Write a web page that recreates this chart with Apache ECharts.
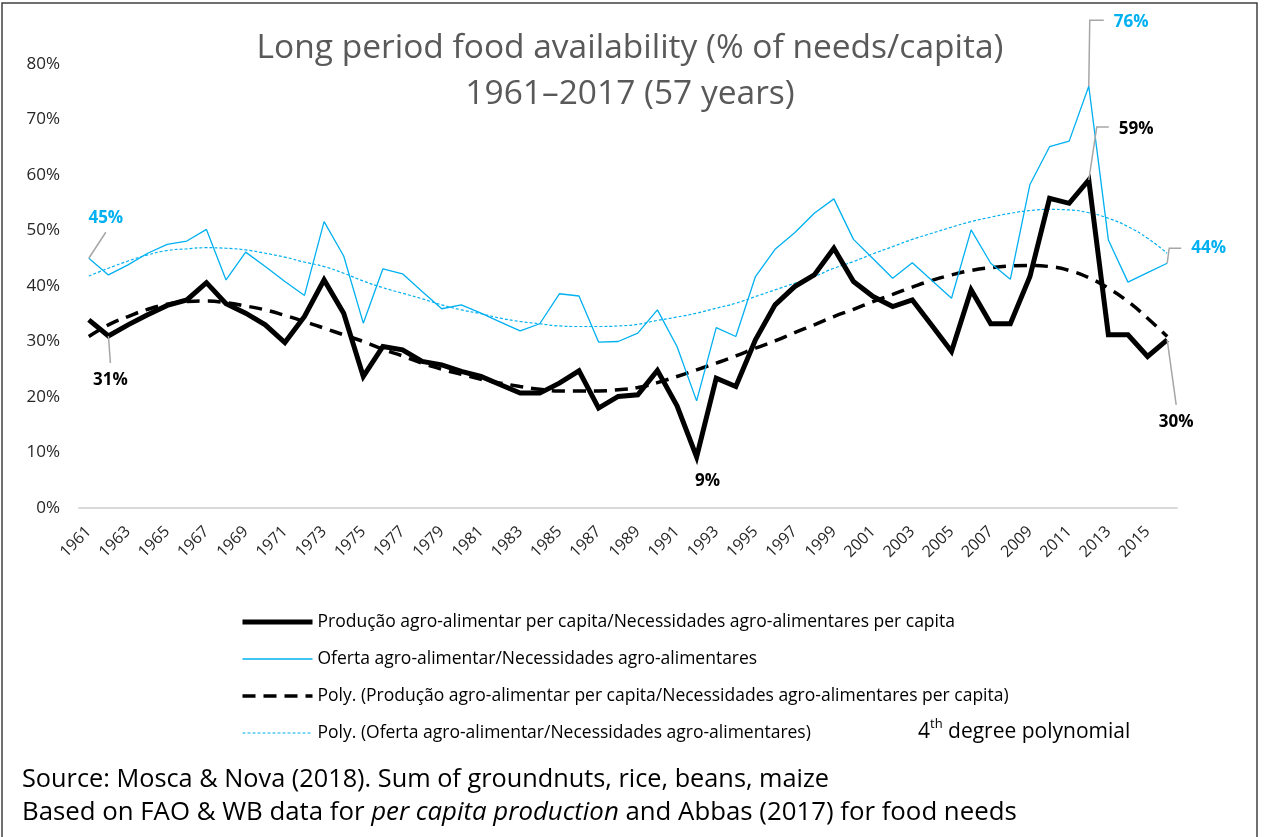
<!DOCTYPE html>
<html>
<head>
<meta charset="utf-8">
<title>Long period food availability</title>
<script src="https://cdn.jsdelivr.net/npm/echarts@6/dist/echarts.min.js"></script>
<style>
  html, body { margin: 0; padding: 0; background: #fff; }
  #chart { width: 1268px; height: 837px; }
</style>
</head>
<body>
<div id="chart"></div>
<script>
  // anos (eixo x)
  const years = [
    '1961', '1962', '1963', '1964', '1965', '1966', '1967', '1968', '1969', '1970',
    '1971', '1972', '1973', '1974', '1975', '1976', '1977', '1978', '1979', '1980',
    '1981', '1982', '1983', '1984', '1985', '1986', '1987', '1988', '1989', '1990',
    '1991', '1992', '1993', '1994', '1995', '1996', '1997', '1998', '1999', '2000',
    '2001', '2002', '2003', '2004', '2005', '2006', '2007', '2008', '2009', '2010',
    '2011', '2012', '2013', '2014', '2015', '2016'
  ]

  // Produção agro-alimentar per capita / necessidades (%)
  const producao = [
    33.9, 31.0, 33.0, 34.8, 36.5, 37.5, 40.6, 36.8, 35.1, 33.0,
    29.8, 34.5, 41.1, 35.1, 23.7, 29.1, 28.5, 26.4, 25.8, 24.6,
    23.7, 22.2, 20.7, 20.7, 22.5, 24.7, 18.0, 20.1, 20.4, 24.8,
    18.4, 9.2, 23.4, 21.9, 30.3, 36.6, 39.9, 42.0, 46.8, 40.8,
    38.1, 36.3, 37.5, 32.9, 28.2, 39.3, 33.2, 33.2, 41.7, 55.8,
    54.9, 59.1, 31.2, 31.2, 27.3, 30.3
  ]

  // Oferta agro-alimentar / necessidades (%)
  const oferta = [
    45.0, 42.0, 43.8, 45.9, 47.5, 48.1, 50.2, 41.1, 46.1, 43.5,
    40.8, 38.3, 51.6, 45.4, 33.3, 43.1, 42.2, 39.0, 35.9, 36.6,
    35.1, 33.5, 31.9, 33.2, 38.6, 38.2, 29.9, 30.0, 31.5, 35.7,
    29.1, 19.3, 32.5, 30.9, 41.7, 46.6, 49.6, 53.1, 55.7, 48.4,
    44.9, 41.4, 44.2, 41.0, 37.8, 50.1, 44.1, 41.2, 58.3, 65.1,
    66.1, 76.0, 48.3, 40.7, 42.4, 44.1
  ]

  // tendências (polinómio 4º grau)
  const producaoTrend = [
    30.9, 33.0, 34.5, 35.8, 36.7, 37.2, 37.3, 37.0, 36.4, 35.7,
    34.7, 33.6, 32.4, 31.2, 30.0, 28.6, 27.4, 26.1, 25.0, 24.1,
    23.2, 22.5, 21.9, 21.4, 21.1, 21.1, 21.1, 21.3, 21.7, 22.6,
    23.7, 24.9, 26.1, 27.4, 28.8, 30.1, 31.6, 33.0, 34.5, 35.8,
    37.2, 38.5, 39.8, 41.0, 42.0, 42.8, 43.3, 43.6, 43.7, 43.5,
    42.8, 41.5, 39.6, 37.2, 34.2, 30.9
  ]
  const ofertaTrend = [
    41.8, 43.2, 44.5, 45.6, 46.4, 46.7, 46.9, 46.8, 46.5, 45.9,
    45.2, 44.3, 43.5, 42.3, 40.9, 39.7, 38.7, 37.7, 36.6, 35.7,
    35.0, 34.2, 33.6, 33.2, 32.8, 32.7, 32.7, 32.8, 33.1, 33.8,
    34.4, 35.1, 36.0, 36.9, 38.1, 39.3, 40.5, 41.7, 43.2, 44.4,
    45.8, 47.1, 48.4, 49.5, 50.6, 51.6, 52.4, 53.1, 53.6, 53.8,
    53.7, 53.2, 52.2, 50.7, 48.6, 45.9
  ]

  const yTicks = [0, 10, 20, 30, 40, 50, 60, 70, 80]

  const names = [
    'Produção agro-alimentar per capita/Necessidades agro-alimentares per capita',
    'Oferta agro-alimentar/Necessidades agro-alimentares',
    'Poly. (Produção agro-alimentar per capita/Necessidades agro-alimentares per capita)',
    'Poly. (Oferta agro-alimentar/Necessidades agro-alimentares)'
  ]

  const BLACK = '#000000'
  const BLUE = '#00b0f0'
  const GUIDE = '#a6a6a6'
  const FONT = '"Open Sans", "Noto Sans", sans-serif'

  // rótulos com linha guia: ponto de referência + desvios em px
  const notes = [
    {values: oferta, index: 0, color: BLUE, path: [[0, 0], [17, -26]], text: [17, -40], align: 'center'},
    {values: producao, index: 1, color: BLACK, path: [[0, 0], [2, 27]], text: [2, 44], align: 'center'},
    {values: producao, index: 31, color: BLACK, path: null, text: [11, 24], align: 'center'},
    {values: oferta, index: 51, color: BLUE, path: [[0, 0], [1, -66], [15, -66]], text: [25, -64], align: 'left'},
    {values: producao, index: 51, color: BLACK, path: [[0, 0], [8, -53], [20, -53]], text: [30, -51], align: 'left'},
    {values: oferta, index: 55, color: BLUE, path: [[0, 0], [2, -15], [14, -15]], text: [24, -15], align: 'left'},
    {values: producao, index: 55, color: BLACK, path: [[0, 0], [9, 65]], text: [9, 82], align: 'center'}
  ]

  const chart = echarts.init(document.getElementById('chart'))

  chart.setOption({
    animation: false,
    textStyle: {fontFamily: FONT},
    title: {
      text: 'Long period food availability (% of needs/capita)\n1961–2017 (57 years)',
      left: 630,
      top: 25,
      padding: 0,
      textAlign: 'center',
      textStyle: {
        fontFamily: FONT,
        fontSize: 33.5,
        fontWeight: 'normal',
        color: '#595959',
        lineHeight: 46
      }
    },
    legend: {
      data: names,
      orient: 'vertical',
      left: 240,
      top: 613,
      itemWidth: 70,
      itemHeight: 14,
      itemGap: 19,
      padding: 0,
      selectedMode: false,
      itemStyle: {opacity: 0},
      lineStyle: {width: 'inherit'},
      textStyle: {fontSize: 17.5, lineHeight: 16, color: '#000', fontFamily: FONT}
    },
    grid: {
      left: 79,
      right: 91,
      top: 64,
      bottom: 329
    },
    xAxis: {
      type: 'category',
      data: years,
      boundaryGap: true,
      axisLine: {lineStyle: {color: '#d9d9d9', width: 2}},
      axisTick: {show: false},
      axisLabel: {
        interval: 1,
        rotate: 45,
        margin: 21,
        fontSize: 16,
        color: '#262626'
      },
      splitLine: {show: false}
    },
    yAxis: {
      type: 'value',
      min: yTicks[0],
      max: yTicks[yTicks.length - 1],
      interval: yTicks[1] - yTicks[0],
      axisLine: {show: false},
      axisTick: {show: false},
      splitLine: {show: false},
      axisLabel: {
        formatter: '{value}%',
        margin: 19,
        fontSize: 17,
        color: '#262626'
      }
    },
    series: [
      {
        name: names[0],
        type: 'line',
        data: producao,
        symbol: 'none',
        color: BLACK,
        lineStyle: {color: BLACK, width: 5, join: 'miter', miterLimit: 4},
        z: 4
      },
      {
        name: names[1],
        type: 'line',
        data: oferta,
        symbol: 'none',
        color: BLUE,
        lineStyle: {color: BLUE, width: 1.3},
        z: 3
      },
      {
        name: names[2],
        type: 'line',
        data: producaoTrend,
        symbol: 'none',
        smooth: true,
        color: BLACK,
        lineStyle: {color: BLACK, width: 3.5, type: [13, 8], cap: 'butt'},
        z: 2
      },
      {
        name: names[3],
        type: 'line',
        data: ofertaTrend,
        symbol: 'none',
        smooth: true,
        color: BLUE,
        lineStyle: {color: BLUE, width: 1.2, type: [3, 2]},
        z: 2
      },
      {
        name: 'labels',
        type: 'custom',
        clip: false,
        silent: true,
        z: 6,
        data: notes.map(function (n) { return [n.index, n.values[n.index]] }),
        renderItem: function (params, api) {
          const n = notes[params.dataIndex]
          const p = api.coord([api.value(0), api.value(1)])
          const children = []
          if (n.path) {
            children.push({
              type: 'polyline',
              shape: {points: n.path.map(function (d) { return [p[0] + d[0], p[1] + d[1]] })},
              style: {stroke: GUIDE, lineWidth: 1.5, fill: null}
            })
          }
          children.push({
            type: 'text',
            x: p[0] + n.text[0],
            y: p[1] + n.text[1],
            style: {
              text: Math.round(api.value(1)) + '%',
              fill: n.color,
              font: 'bold 17px ' + FONT,
              align: n.align,
              verticalAlign: 'middle'
            }
          })
          return {type: 'group', children: children}
        }
      }
    ],
    graphic: [
      {
        type: 'rect',
        silent: true,
        shape: {x: 2, y: 3, width: 1255, height: 850},
        style: {fill: 'none', stroke: '#404040', lineWidth: 1.5}
      },
      {
        type: 'text',
        left: 918,
        top: 718,
        style: {
          text: '{n|4}{s|th}{n| degree polynomial}',
          rich: {
            n: {fontSize: 21, fontFamily: FONT, fill: '#000', lineHeight: 28},
            s: {fontSize: 13, fontFamily: FONT, fill: '#000', verticalAlign: 'top'}
          }
        }
      },
      {
        type: 'text',
        left: 22,
        top: 765,
        style: {
          text: 'Source: Mosca & Nova (2018). Sum of groundnuts, rice, beans, maize',
          fontSize: 25.3,
          lineHeight: 30,
          fontFamily: FONT,
          fill: '#000'
        }
      },
      {
        type: 'text',
        left: 22,
        top: 800,
        style: {
          text: '{n|Based on FAO & WB data for }{i|per capita production}{n| and Abbas (2017) for food needs}',
          rich: {
            n: {fontSize: 25.8, lineHeight: 30, fontFamily: FONT, fill: '#000'},
            i: {fontSize: 25.8, lineHeight: 30, fontFamily: FONT, fill: '#000', fontStyle: 'italic'}
          }
        }
      }
    ]
  })
</script>
</body>
</html>
